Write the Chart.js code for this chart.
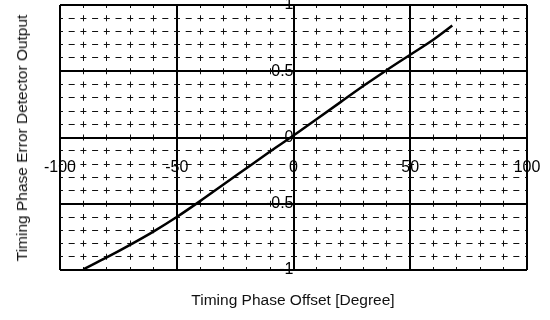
<!DOCTYPE html>
<html><head><meta charset="utf-8">
<script src="https://cdn.jsdelivr.net/npm/chart.js@4/dist/chart.umd.min.js"></script>
<style>
html,body{margin:0;padding:0;background:#fff;}
#wrap{position:relative;width:550px;height:320px;overflow:hidden;}
canvas{position:absolute;left:0;top:0;}
.t{position:absolute;font-family:"Liberation Sans",Arial,sans-serif;font-size:15.5px;color:#111;white-space:nowrap;line-height:18px;}
#xt{left:0;width:586px;top:291px;text-align:center;}
#yt{left:22px;top:138px;transform:translate(-50%,-50%) rotate(-90deg);}
</style></head>
<body>
<div id="wrap">
<canvas id="c" width="550" height="320"></canvas>
<div class="t" id="xt">Timing Phase Offset [Degree]</div>
<div class="t" id="yt">Timing Phase Error Detector Output</div>
</div>
<script>
const phaseOffset    = [-90, -80, -70, -60, -50, -40, -30, -20, -10, 0, 10, 20, 30, 40, 50, 60, 68];
const detectorOutput = [-0.995, -0.905, -0.81, -0.71, -0.60, -0.48, -0.355, -0.23, -0.105, 0.015, 0.14, 0.265, 0.39, 0.51, 0.625, 0.74, 0.845];
const xTickLabels = [-100, -50, 0, 50, 100];
const yTickLabels = [-1, -0.5, 0, 0.5, 1];

const FONT = '"Liberation Sans", Arial, sans-serif';
const near = (v, arr) => arr.some(a => Math.abs(a - v) < 1e-6);
const isMajorX = ctx => ctx.tick && near(ctx.tick.value, xTickLabels);
const isMajorY = ctx => ctx.tick && near(ctx.tick.value, yTickLabels);
const noPad = s => { s.paddingTop = 0; s.paddingBottom = 0; s.paddingLeft = 0; s.paddingRight = 0; };

new Chart(document.getElementById('c'), {
  type: 'line',
  data: {
    datasets: [{
      data: phaseOffset.map((x, i) => ({x: x, y: detectorOutput[i]})),
      borderColor: '#000',
      borderWidth: 2.5,
      pointRadius: 0,
      cubicInterpolationMode: 'monotone',
      fill: false
    }]
  },
  options: {
    responsive: false,
    animation: false,
    layout: {padding: {left: 60, right: 23, top: 5, bottom: 50}},
    plugins: {legend: {display: false}, tooltip: {enabled: false}},
    scales: {
      x: {
        type: 'linear', min: -100, max: 100,
        position: {y: 0},
        afterFit: noPad,
        ticks: {
          stepSize: 10, autoSkip: false, maxTicksLimit: 100, maxRotation: 0,
          padding: 20, color: '#000', font: {family: FONT, size: 16},
          callback: v => near(v, xTickLabels) ? String(Math.round(v)) : ''
        },
        grid: {
          drawTicks: false,
          color: ctx => isMajorX(ctx) ? '#000' : '#111',
          lineWidth: ctx => isMajorX(ctx) ? 2 : 1
        },
        border: {
          display: false,
          dash: ctx => isMajorX(ctx) ? [] : [6, 7.25],
          dashOffset: 3
        }
      },
      y: {
        type: 'linear', min: -1, max: 1,
        position: {x: 0},
        afterFit: noPad,
        ticks: {
          stepSize: 0.1, autoSkip: false, maxTicksLimit: 100,
          padding: 3, color: '#000', font: {family: FONT, size: 16},
          callback: v => near(v, yTickLabels) ? String(Math.round(v * 2) / 2) : ''
        },
        grid: {
          drawTicks: false,
          color: ctx => isMajorY(ctx) ? '#000' : '#111',
          lineWidth: ctx => isMajorY(ctx) ? 2 : 1
        },
        border: {
          display: false,
          dash: ctx => isMajorY(ctx) ? [] : [6, 5.7],
          dashOffset: 3
        }
      }
    }
  }
});
</script>
</body></html>
